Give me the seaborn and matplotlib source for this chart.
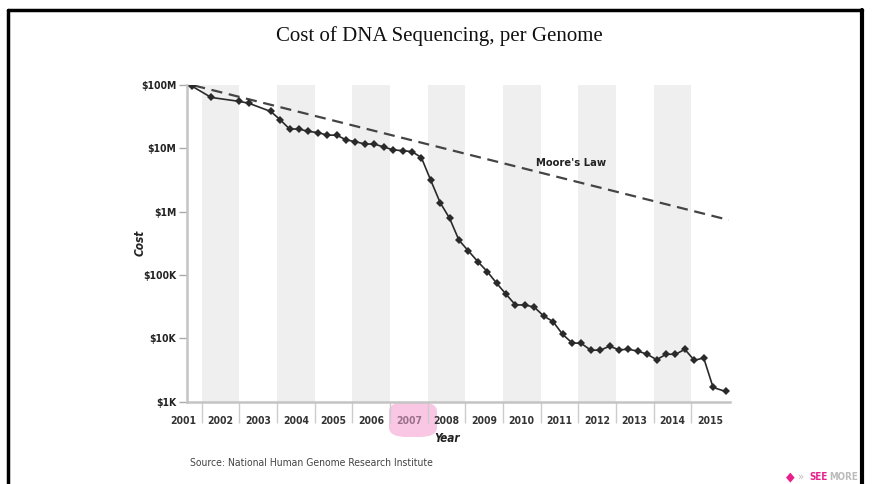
import numpy as np
import pandas as pd
import matplotlib
matplotlib.use("Agg")
import matplotlib.pyplot as plt
import matplotlib.ticker as mticker
from matplotlib.patches import FancyBboxPatch
from matplotlib.lines import Line2D
import seaborn as sns

# Data (cost per genome, USD)
dates = [
    "2001-09", "2002-03", "2002-12", "2003-03", "2003-10",
    "2004-01", "2004-04", "2004-07", "2004-10",
    "2005-01", "2005-04", "2005-07", "2005-10",
    "2006-01", "2006-04", "2006-07", "2006-10",
    "2007-01", "2007-04", "2007-07", "2007-10",
    "2008-01", "2008-04", "2008-07", "2008-10",
    "2009-01", "2009-04", "2009-07", "2009-10",
    "2010-01", "2010-04", "2010-07", "2010-10",
    "2011-01", "2011-04", "2011-07", "2011-10",
    "2012-01", "2012-04", "2012-07", "2012-10",
    "2013-01", "2013-04", "2013-07", "2013-10",
    "2014-01", "2014-04", "2014-07", "2014-10",
    "2015-01", "2015-04", "2015-07", "2015-11",
]
cost = [
    94e6, 63e6, 54.5e6, 51e6, 37.8e6,
    28e6, 20e6, 20e6, 18.3e6,
    17.6e6, 16e6, 16e6, 13.5e6,
    12.6e6, 11.6e6, 11.6e6, 10.4e6,
    9.4e6, 9.1e6, 8.8e6, 7.1e6,
    3.1e6, 1.38e6, 782e3, 352e3,
    239e3, 162e3, 113e3, 74e3,
    49.5e3, 33.6e3, 33.6e3, 31e3,
    22.5e3, 18.3e3, 11.6e3, 8.5e3,
    8.3e3, 6.5e3, 6.5e3, 7.5e3,
    6.6e3, 6.7e3, 6.3e3, 5.6e3,
    4.6e3, 5.6e3, 5.6e3, 6.7e3,
    4.5e3, 4.9e3, 1.68e3, 1.45e3,
]

# Moore's Law reference line (end points)
moore_x = [2001.8, 2016.0]
moore_y = [9.7e7, 7.35e5]

years = list(range(2001, 2016))
shaded_years = [2002, 2004, 2006, 2008, 2010, 2012, 2014]
ytick_vals = [1e3, 1e4, 1e5, 1e6, 1e7, 1e8]
ytick_labels = ["$1K", "$10K", "$100K", "$1M", "$10M", "$100M"]

df = pd.DataFrame({"date": pd.to_datetime(dates), "cost": cost})
df["year"] = df["date"].dt.year + df["date"].dt.month / 12.0

sns.set_style("white")
plt.rcParams["font.family"] = ["DejaVu Sans"]
plt.rcParams["font.stretch"] = "condensed"

fig = plt.figure(figsize=(8.79, 4.84), dpi=100)
ax = fig.add_axes([0.2124, 0.170, 0.618, 0.655])

# alternating year bands
for yr in shaded_years:
    ax.axvspan(yr, yr + 1, color="#efefef", lw=0, zorder=0)

sns.lineplot(x=moore_x, y=moore_y, ax=ax, color="#444444", lw=1.6,
             linestyle=(0, (5, 3)), zorder=2)
sns.lineplot(data=df, x="year", y="cost", ax=ax, color="#2a2a2a", lw=1.2,
             marker="D", markersize=3.8, markeredgewidth=0, zorder=3)

ax.set_yscale("log")
ax.set_ylim(1e3, 1e8)
ax.set_xlim(2001.6, 2016.03)

ax.set_yticks(ytick_vals)
ax.set_yticklabels(ytick_labels, fontweight="bold", fontsize=7.5, color="#222222")
ax.yaxis.set_minor_locator(mticker.NullLocator())
ax.tick_params(axis="y", which="major", length=6, width=1, color="#aaaaaa", pad=1.5, left=True)

ax.set_xticks([y + 0.5 for y in years[1:]])
ax.set_xticklabels([str(y) for y in years[1:]], fontweight="bold", fontsize=7.5, color="#333333")
ax.set_xticks(years[1:], minor=True)
ax.tick_params(axis="x", which="major", length=0, pad=10)
ax.tick_params(axis="x", which="minor", length=15, width=1, color="#cccccc", bottom=True)
for lab in ax.get_xticklabels():
    if lab.get_text() == "2007":
        lab.set_color("#9a7088")

# 2001 sits left of the plotted range
ax.annotate("2001", xy=(2001.5, 0), xycoords=("data", "axes fraction"),
            xytext=(0, -10), textcoords="offset points", ha="center", va="top",
            fontsize=7.5, fontweight="bold", color="#333333", annotation_clip=False)

for side in ["top", "right"]:
    ax.spines[side].set_visible(False)
for side in ["left", "bottom"]:
    ax.spines[side].set_color("#c4c4c4")
    ax.spines[side].set_linewidth(1.8)

ax.set_xlabel("Year", fontsize=8.5, fontweight="bold", fontstyle="italic", color="#222222", va="center")
ax.xaxis.set_label_coords(0.479, -0.115)
ax.set_ylabel("Cost", fontsize=8.5, fontweight="bold", fontstyle="italic", color="#222222", va="center")
ax.yaxis.set_label_coords(-0.086, 0.5)

ax.text(2011.81, 5.8e6, "Moore's Law", ha="center", va="center", fontsize=8,
        fontweight="bold", color="#222222")

# pink highlight behind 2007
fig.add_artist(FancyBboxPatch((389 / 879, 1 - 437 / 484), 48 / 879, 35 / 484,
                              boxstyle="round,pad=0,rounding_size=0.02",
                              transform=fig.transFigure, facecolor="#f9c6e3",
                              edgecolor="none", zorder=-1))

fig.text(0.5, 1 - 36 / 484, "Cost of DNA Sequencing, per Genome", ha="center", va="center",
         fontsize=15, family=["Liberation Serif", "DejaVu Serif"], fontstretch="normal",
         color="#111111")
fig.text(190 / 879, 1 - 463 / 484, "Source: National Human Genome Research Institute",
         ha="left", va="center", fontsize=7.5, color="#444444")

# logo
fig.text(786 / 879, 1 - 477 / 484, "\u25c6", ha="left", va="center", fontsize=9,
         color="#e8208c")
fig.text(798 / 879, 1 - 477 / 484, "\u00bb", ha="left", va="center", fontsize=8,
         color="#bbbbbb")
fig.text(809 / 879, 1 - 477 / 484, "SEE", ha="left", va="center", fontsize=7,
         fontweight="bold", color="#e8208c")
fig.text(829 / 879, 1 - 477 / 484, "MORE", ha="left", va="center", fontsize=7,
         fontweight="bold", color="#bbbbbb")

# black frame (open at the bottom)
fig.add_artist(Line2D([8 / 879, 8 / 879], [0, 1 - 10 / 484], transform=fig.transFigure,
                      color="black", lw=2.5))
fig.add_artist(Line2D([862 / 879, 862 / 879], [0, 1 - 10 / 484], transform=fig.transFigure,
                      color="black", lw=3))
fig.add_artist(Line2D([8 / 879, 862 / 879], [1 - 10 / 484, 1 - 10 / 484], transform=fig.transFigure,
                      color="black", lw=2.5))

fig.savefig("out.png", dpi=100)
